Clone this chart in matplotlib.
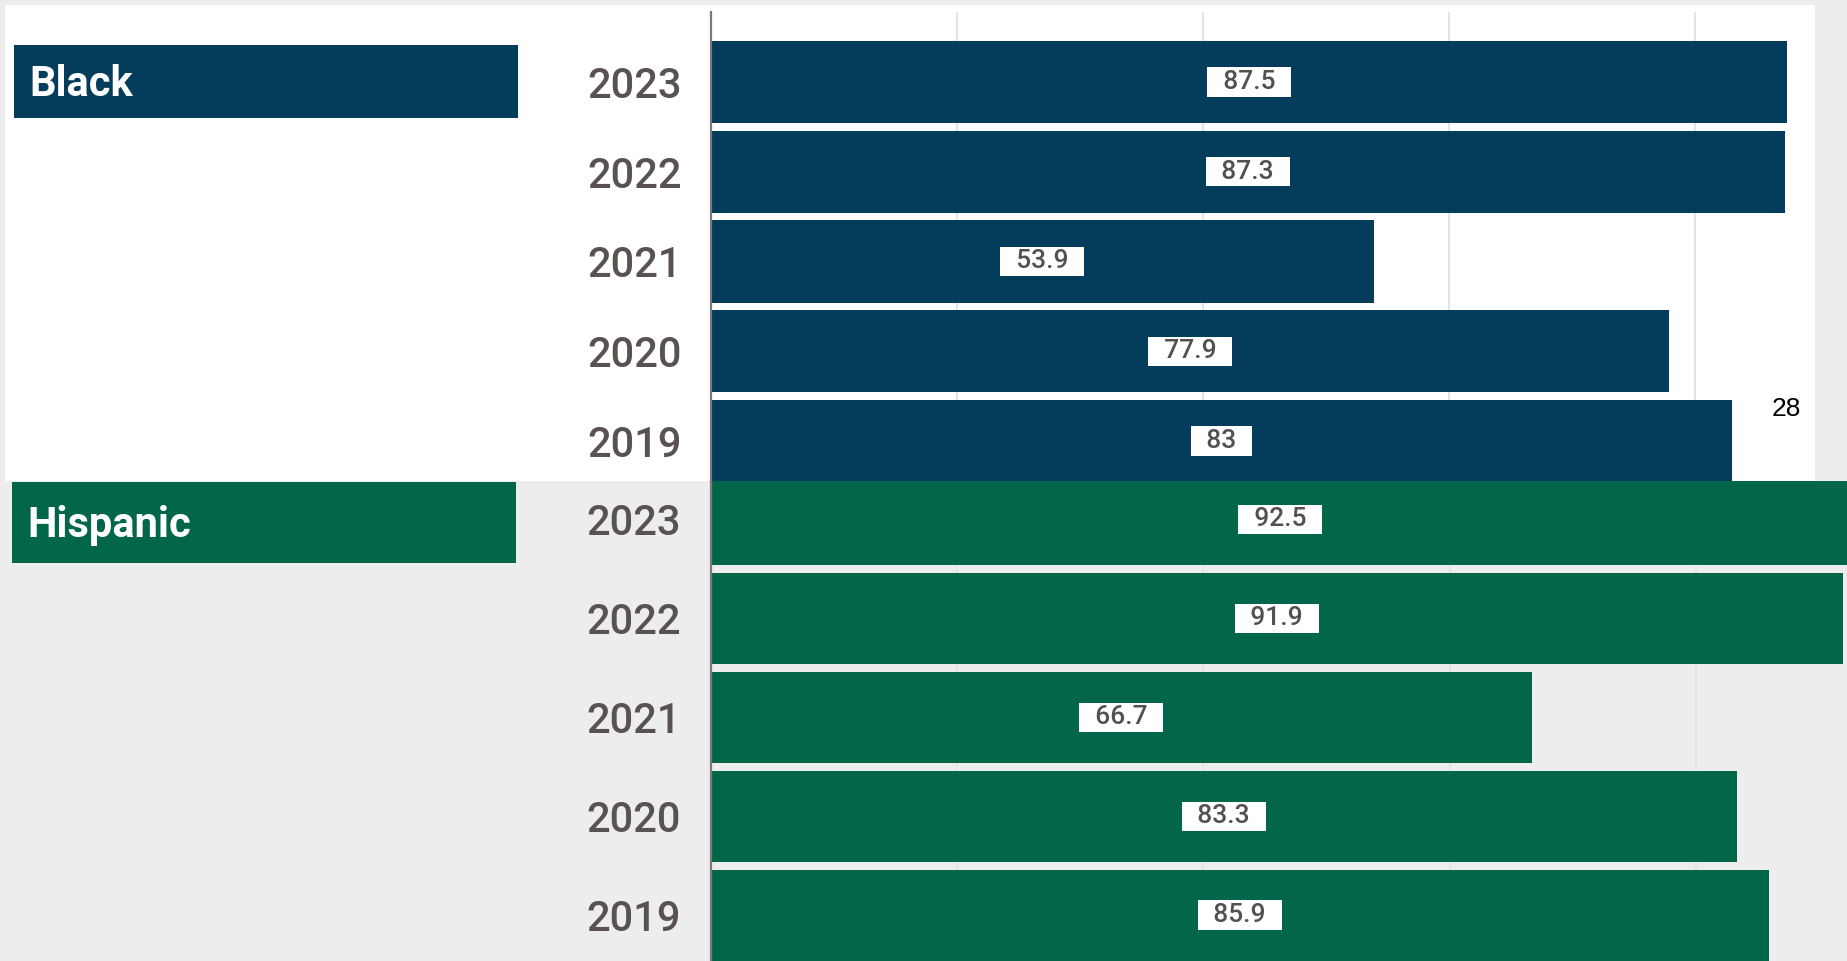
#!/usr/bin/env python3

import matplotlib
matplotlib.use("Agg")
import matplotlib.pyplot as plt
from matplotlib.patches import Rectangle

years = ["2023", "2022", "2021", "2020", "2019"]
black_values = [87.5, 87.3, 53.9, 77.9, 83]
hispanic_values = [92.5, 91.9, 66.7, 83.3, 85.9]
group_names = ["Black", "Hispanic"]
group_colors = ["#033d5b", "#02664a"]
page_number = "28"

W, H = 1847, 961
BG = "#ededed"
YEAR_COLOR = "#5a5151"
VALUE_COLOR = "#555050"

plt.rcParams["font.family"] = ["Roboto", "DejaVu Sans"]


def box(x0, y0, x1, y1):
    """pixel box (origin top-left) -> figure fraction [left, bottom, w, h]"""
    return [x0 / W, 1 - y1 / H, (x1 - x0) / W, (y1 - y0) / H]


def draw_group(fig, rect, values, color, xmax, ylim, height, facecolor):
    ax = fig.add_axes(rect)
    ax.set_facecolor(facecolor)
    pos = list(range(len(years)))
    ax.barh(pos, values, height=height, color=color, zorder=2)
    ax.set_xlim(0, xmax)
    ax.set_ylim(*ylim)

    ax.set_yticks(pos)
    ax.set_yticklabels(years, fontsize=30, fontweight="medium", color=YEAR_COLOR)
    ax.tick_params(axis="y", length=0, pad=21)
    ax.set_xticks([20, 40, 60, 80])
    ax.set_xticklabels([])
    ax.tick_params(axis="x", length=0)
    ax.grid(axis="x", color="#e2e2e2", linewidth=1.3)
    ax.set_axisbelow(True)

    for s in ["top", "right", "bottom"]:
        ax.spines[s].set_visible(False)
    ax.spines["left"].set_color("#7a7a7a")
    ax.spines["left"].set_linewidth(1.6)

    for p, v in zip(pos, values):
        ax.text(v / 2, p, f"  {v:g}  ", ha="center", va="center", fontsize=19,
                fontweight="medium", color=VALUE_COLOR, zorder=4,
                bbox=dict(boxstyle="square,pad=0.1", fc="white", ec="none"))
    return ax


fig = plt.figure(figsize=(W / 100, H / 100), dpi=100)
fig.patch.set_facecolor(BG)

# white panel behind the first group
x0, y0, w, h = box(5, 5, 1815, 481)
fig.patches.append(Rectangle((x0, y0), w, h, transform=fig.transFigure,
                             facecolor="white", edgecolor="none", zorder=-10))

px = 12.3
draw_group(fig, box(711, 12, 1815, 481), black_values, group_colors[0],
           (1815 - 711) / px, (4.446, -0.78), 0.915, "none")
draw_group(fig, box(710.5, 481, 1847, 961), hispanic_values, group_colors[1],
           (1847 - 710.5) / 12.32, (4.464, -0.389), 0.92, BG)

# group header boxes
for name, color, (bx0, by0, bx1, by1) in zip(
        group_names, group_colors, [(14, 45, 518, 118), (12, 482, 516, 563)]):
    x0, y0, w, h = box(bx0, by0, bx1, by1)
    fig.patches.append(Rectangle((x0, y0), w, h, transform=fig.transFigure,
                                 facecolor=color, edgecolor="none"))
    fig.text((bx0 + 15) / W, 1 - ((by0 + by1) / 2 + 3) / H, name, color="white",
             fontsize=30, fontweight="bold", ha="left", va="center")

fig.text(1786 / W, 1 - 409 / H, page_number, fontsize=19, color="black",
         family="Liberation Sans", ha="center", va="center")

fig.savefig("out.png", dpi=100, facecolor=BG)
